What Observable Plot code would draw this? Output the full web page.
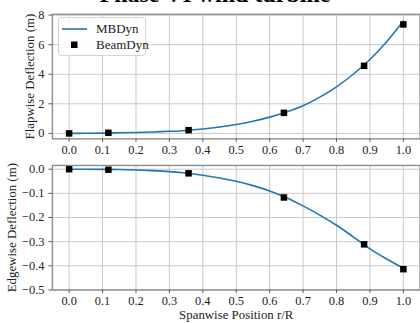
<!DOCTYPE html>
<html><head><meta charset="utf-8">
<script src="https://cdn.jsdelivr.net/npm/d3@7"></script>
<script src="https://cdn.jsdelivr.net/npm/@observablehq/plot@0.6"></script>
<style>
html,body{margin:0;padding:0;overflow:hidden;background:#fff;}
#wrap{position:relative;width:420px;height:323px;overflow:hidden;font-family:"Liberation Serif","Times New Roman",serif;background:#fff;}
#wrap svg{position:absolute;left:0;}
#title{position:absolute;left:0;width:430px;text-align:center;top:-19px;font:bold 24px "Liberation Serif",serif;color:#000;white-space:nowrap;}
#legend{position:absolute;left:58px;top:17px;width:88px;height:39px;box-sizing:border-box;border:1px solid #d4d4d4;border-radius:3px;background:rgba(255,255,255,0.9);font:13px "Liberation Serif",serif;color:#222;}
#legend .row{position:absolute;left:3px;height:16px;display:flex;align-items:center;}
#legend .row span{margin-left:8px;}
</style></head><body>
<div id="wrap"><div id="title"></div></div>
<script>
const title = "Phase VI wind turbine";
const xLabel = "Spanwise Position r/R";
const flapLabel = "Flapwise Deflection (m)";
const edgeLabel = "Edgewise Deflection (m)";
const seriesNames = ["MBDyn", "BeamDyn"];

// BeamDyn nodes (squares)
const nodePos  = [0, 0.1175, 0.3574, 0.6426, 0.8825, 1.0];
const beamFlap = [0.0, 0.04, 0.22, 1.39, 4.57, 7.37];
const beamEdge = [0.0, -0.002, -0.017, -0.117, -0.311, -0.414];

// MBDyn curve
const linePos = [0,0.05,0.1,0.15,0.2,0.25,0.3,0.35,0.4,0.45,0.5,0.55,0.6,0.65,0.7,0.75,0.8,0.85,0.9,0.95,1.0];
const mbFlap  = [0,0.005,0.02,0.04,0.065,0.1,0.14,0.2,0.3,0.43,0.6,0.82,1.1,1.45,1.87,2.45,3.15,4.0,5.0,6.2,7.6];
const mbEdge  = [0,0,-0.0005,-0.001,-0.003,-0.006,-0.01,-0.016,-0.025,-0.036,-0.05,-0.068,-0.09,-0.118,-0.152,-0.19,-0.232,-0.28,-0.33,-0.372,-0.41];

const xTicks    = [0,0.1,0.2,0.3,0.4,0.5,0.6,0.7,0.8,0.9,1.0];
const flapTicks = [0,2,4,6,8];
const edgeTicks = [0,-0.1,-0.2,-0.3,-0.4,-0.5];

const lineColor = "#1f77b4";
const font = "Liberation Serif";
const txt = {fontFamily: font, fill: "#222"};

const lineData = (ys) => linePos.map((x, i) => ({x, y: ys[i]}));
const ptData = (ys) => nodePos.map((x, i) => ({x, y: ys[i]}));

function panel({height, marginTop, marginBottom, yDomain, yTicks, yFmt, yLabel, labelDx, lineY, ptY, xTitle}) {
  const xFmt = d3.format(".1f");
  const marks = [
    Plot.gridX(xTicks, {stroke: "#c8c8c8", strokeOpacity: 1, strokeWidth: 1}),
    Plot.gridY(yTicks, {stroke: "#c8c8c8", strokeOpacity: 1, strokeWidth: 1}),
    Plot.line(lineData(lineY), {x: "x", y: "y", stroke: lineColor, strokeWidth: 1.6, curve: "catmull-rom"}),
    Plot.dot(ptData(ptY), {x: "x", y: "y", symbol: "square", r: 3.7, fill: "#000", stroke: "none"}),
    Plot.frame({stroke: "#8c8c8c", strokeWidth: 1.4}),
    Plot.axisX(xTicks, {tickFormat: () => "", tickSize: 3.5, label: null, stroke: "#555"}),
    Plot.axisY(yTicks, {tickFormat: () => "", tickSize: 3.5, label: null, stroke: "#555"}),
    Plot.text(xTicks, {x: d => d, text: d => xFmt(d), frameAnchor: "bottom", dy: 6, lineAnchor: "top", textAnchor: "middle", fontSize: 12.5, ...txt}),
    Plot.text(yTicks, {y: d => d, text: d => yFmt(d), frameAnchor: "left", dx: -8, lineAnchor: "middle", textAnchor: "end", fontSize: 12.5, ...txt}),
    Plot.text([yLabel], {frameAnchor: "left", dx: labelDx, rotate: -90, textAnchor: "middle", lineAnchor: "middle", fontSize: 13, ...txt})
  ];
  if (xTitle) marks.push(Plot.text([xTitle], {frameAnchor: "bottom", dy: 25, textAnchor: "middle", lineAnchor: "middle", fontSize: 13, ...txt}));
  return Plot.plot({
    width: 424, height, marginLeft: 52.4, marginRight: 0.4, marginTop, marginBottom,
    style: {fontFamily: font, background: "transparent", overflow: "visible"},
    x: {domain: [-0.05, 1.05], axis: null},
    y: {domain: yDomain, axis: null},
    marks
  });
}

const wrap = document.getElementById("wrap");
document.getElementById("title").textContent = title;

const topPanel = panel({height: 160, marginTop: 14, marginBottom: 20.3, yDomain: [-0.37, 8.05], yTicks: flapTicks, yFmt: d3.format("d"), yLabel: flapLabel, labelDx: -22.5, lineY: mbFlap, ptY: beamFlap});
topPanel.style.top = "0px";
const botPanel = panel({height: 163, marginTop: 5, marginBottom: 32.3, yDomain: [-0.5, 0.0156], yTicks: edgeTicks, yFmt: d3.format(".1f"), yLabel: edgeLabel, labelDx: -41, lineY: mbEdge, ptY: beamEdge, xTitle: xLabel});
botPanel.style.top = "160px";
wrap.insertBefore(botPanel, wrap.firstChild);
wrap.insertBefore(topPanel, wrap.firstChild);

// legend
const legend = document.createElement("div");
legend.id = "legend";
legend.innerHTML =
  `<div class="row" style="top:3px"><svg width="26" height="10" style="position:static"><line x1="0" y1="5" x2="25" y2="5" stroke="${lineColor}" stroke-width="1.6"/></svg><span>${seriesNames[0]}</span></div>` +
  `<div class="row" style="top:19px"><svg width="26" height="10" style="position:static"><rect x="9" y="1.5" width="6.5" height="6.5" fill="#000"/></svg><span>${seriesNames[1]}</span></div>`;
wrap.appendChild(legend);
</script>
</body></html>
